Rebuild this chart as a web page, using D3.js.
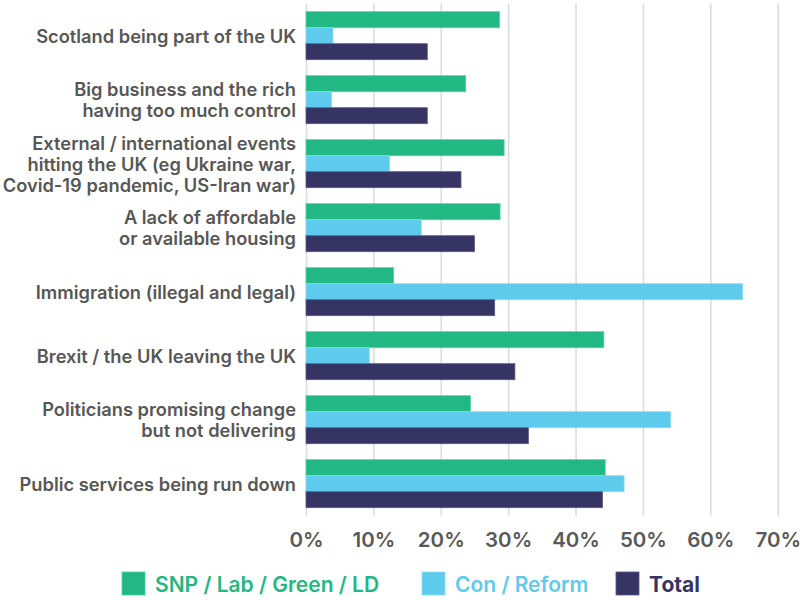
<!DOCTYPE html>
<html><head><meta charset="utf-8">
<script src="https://cdn.jsdelivr.net/npm/d3@7"></script>
<style>body{margin:0;background:#fff;} svg{display:block;font-family:Inter, "Noto Sans", sans-serif;}</style>
</head><body>
<svg id="c" width="800" height="600"></svg>
<script>
const categories = [
  ["Scotland being part of the UK"],
  ["Big business and the rich","having too much control"],
  ["External / international events","hitting the UK (eg Ukraine war,","Covid-19 pandemic, US-Iran war)"],
  ["A lack of affordable","or available housing"],
  ["Immigration (illegal and legal)"],
  ["Brexit / the UK leaving the UK"],
  ["Politicians promising change","but not delivering"],
  ["Public services being run down"]
];
const seriesNames = ["SNP / Lab / Green / LD", "Con / Reform", "Total"];
const snpLabGreenLD = [28.7, 23.7, 29.4, 28.8, 13.0, 44.2, 24.4, 44.4];
const conReform     = [4.0, 3.8, 12.4, 17.1, 64.8, 9.4, 54.1, 47.2];
const total         = [18.0, 18.0, 23.0, 25.0, 28.0, 31.0, 33.0, 44.0];
const xTicks = [0, 10, 20, 30, 40, 50, 60, 70];
const colors = ["#22b883", "#5ecbec", "#353463"];
const strokes = ["#4fd0a2", "#8adcf3", "#5a5988"];

const series = [snpLabGreenLD, conReform, total];
const svg = d3.select("#c");
const x = d3.scaleLinear().domain([0, 70]).range([306, 777.7]);
const keys = categories.map((c,i)=>i);
const y = d3.scaleBand().domain(keys).range([3.7, 515.7]).paddingInner(0.25).paddingOuter(0.125);
const y1 = d3.scaleBand().domain(d3.range(series.length)).range([0, y.bandwidth()]);

// grid
const axis = d3.axisBottom(x).tickValues(xTicks).tickFormat(d => d + "%").tickSize(-512).tickPadding(0);
const g = svg.append("g").attr("transform", "translate(0,515.5)").call(axis);
g.select(".domain").remove();
g.selectAll(".tick line").attr("stroke", "#dcdcdc").attr("stroke-width", 1.6);
g.selectAll(".tick text").attr("fill", "#595959").attr("font-size", 20.5).attr("font-weight", 600)
  .attr("font-family", "Inter, sans-serif").attr("dy", 0).attr("y", 31);

// bars
const groups = svg.append("g").selectAll("g").data(keys).join("g")
  .attr("transform", d => `translate(0,${y(d)})`);
groups.selectAll("rect").data(i => series.map((s, k) => ({k, v: s[i]}))).join("rect")
  .attr("x", x(0))
  .attr("y", d => y1(d.k))
  .attr("width", d => x(d.v) - x(0))
  .attr("height", y1.bandwidth())
  .attr("fill", d => colors[d.k])
  .attr("stroke", d => strokes[d.k])
  .attr("stroke-width", 0.8);

// category labels
const lh = 21;
const lab = svg.append("g").selectAll("text").data(keys).join("text")
  .attr("x", 296)
  .attr("text-anchor", "end")
  .attr("fill", "#575757")
  .attr("font-size", 18.3)
  .attr("font-weight", 600)
  .attr("dominant-baseline", "central");
lab.each(function(i) {
  const lines = categories[i];
  const cy = y(i) + y.bandwidth() / 2;
  const start = cy - (lines.length - 1) * lh / 2;
  d3.select(this).selectAll("tspan").data(lines).join("tspan")
    .attr("x", 296).attr("y", (d, j) => start + j * lh).text(d => d);
});

// legend
const legendX = [122, 422, 616];
const leg = svg.append("g").selectAll("g").data(seriesNames).join("g")
  .attr("transform", (d, i) => `translate(${legendX[i]},572)`);
leg.append("rect").attr("width", 23).attr("height", 23)
  .attr("fill", (d, i) => colors[i]).attr("stroke", (d, i) => strokes[i]).attr("stroke-width", 0.8);
leg.append("text").attr("x", 33).attr("y", 12).attr("dominant-baseline", "central")
  .attr("font-size", 21).attr("font-weight", (d,i)=> i===2 ? 700 : 600)
  .attr("fill", (d, i) => colors[i]).text(d => d);
</script>
</body></html>
